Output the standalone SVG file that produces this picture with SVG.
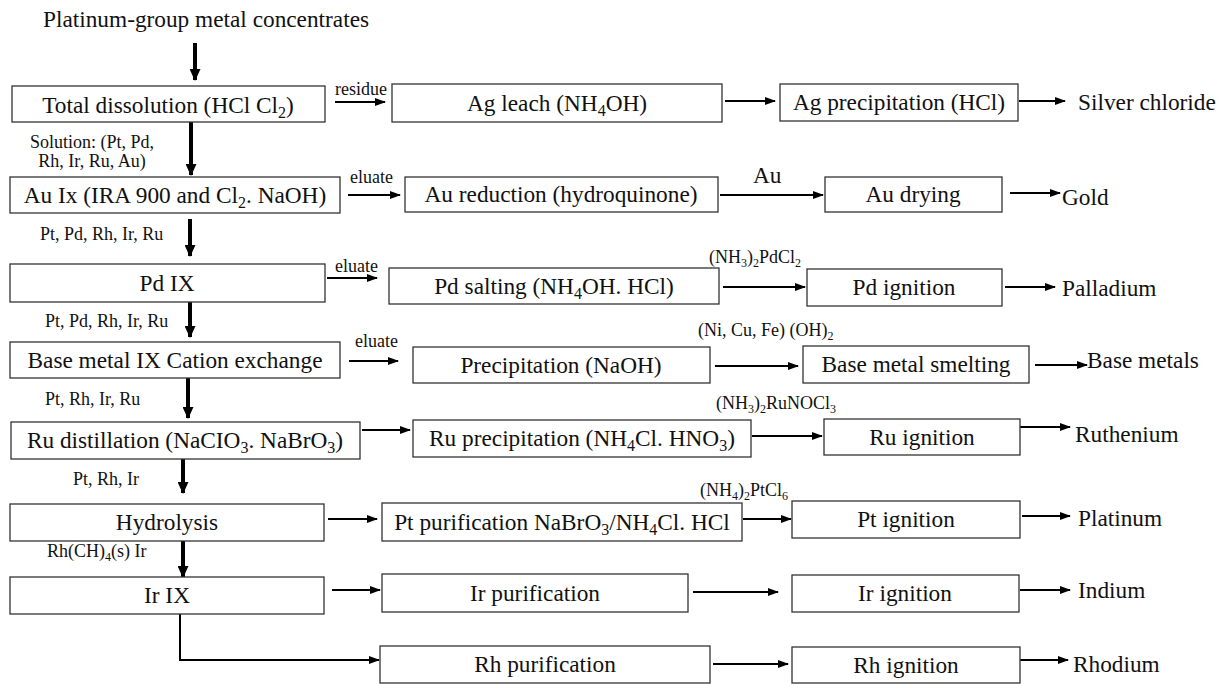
<svg xmlns="http://www.w3.org/2000/svg" width="1227" height="684" viewBox="0 0 1227 684">
<style>
text{font-family:"Liberation Serif","Times New Roman",serif;fill:#111}
.b{fill:#fff;stroke:#333;stroke-width:1.3}
.t{font-size:23.3px;text-anchor:middle}
.o{font-size:23.3px}
.s{font-size:18px}
.c{fill:none;stroke:#000;stroke-width:2}
.v{fill:none;stroke:#000;stroke-width:4}
</style>
<defs>
<marker id="ah" markerUnits="userSpaceOnUse" markerWidth="11" markerHeight="8" refX="10" refY="4" orient="auto"><path d="M0,0 L11,4 L0,8 z" fill="#000"/></marker>
<marker id="av" markerUnits="userSpaceOnUse" markerWidth="12" markerHeight="11" refX="11" refY="5.5" orient="auto"><path d="M0,0 L12,5.5 L0,11 z" fill="#000"/></marker>
</defs>
<rect width="1227" height="684" fill="#fff"/>
<text class="o" x="43" y="27">Platinum-group metal concentrates</text>
<g id="connectors">
<path class="v" d="M195,43 V80" marker-end="url(#av)"/>
<path class="v" d="M191,122 V175" marker-end="url(#av)"/>
<path class="v" d="M190,219 V256" marker-end="url(#av)"/>
<path class="v" d="M190,302 V337" marker-end="url(#av)"/>
<path class="v" d="M188,378 V418" marker-end="url(#av)"/>
<path class="v" d="M183,459 V493" marker-end="url(#av)"/>
<path class="v" d="M183,541 V577" marker-end="url(#av)"/>
<path class="c" d="M180,614 V660 H379" stroke-width="2.5" marker-end="url(#ah)"/>
<path class="c" d="M335,102 H385" marker-end="url(#ah)"/>
<path class="c" d="M725,101 H775" marker-end="url(#ah)"/>
<path class="c" d="M1019,101 H1065" marker-end="url(#ah)"/>
<path class="c" d="M348,195 H400" marker-end="url(#ah)"/>
<path class="c" d="M720,195 H823" marker-end="url(#ah)"/>
<path class="c" d="M1010,193 H1060" marker-end="url(#ah)"/>
<path class="c" d="M327,278 H377" marker-end="url(#ah)"/>
<path class="c" d="M723,287 H805" marker-end="url(#ah)"/>
<path class="c" d="M1005,287 H1055" marker-end="url(#ah)"/>
<path class="c" d="M349,361 H398" marker-end="url(#ah)"/>
<path class="c" d="M715,366 H798" marker-end="url(#ah)"/>
<path class="c" d="M1035,365 H1087" marker-end="url(#ah)"/>
<path class="c" d="M362,430 H410" marker-end="url(#ah)"/>
<path class="c" d="M752,436 H822" marker-end="url(#ah)"/>
<path class="c" d="M1020,427 H1070" marker-end="url(#ah)"/>
<path class="c" d="M328,519 H377" marker-end="url(#ah)"/>
<path class="c" d="M743,519 H791" marker-end="url(#ah)"/>
<path class="c" d="M1022,516 H1070" marker-end="url(#ah)"/>
<path class="c" d="M332,590 H380" marker-end="url(#ah)"/>
<path class="c" d="M693,592 H778" marker-end="url(#ah)"/>
<path class="c" d="M1020,590 H1070" marker-end="url(#ah)"/>
<path class="c" d="M713,664 H788" marker-end="url(#ah)"/>
<path class="c" d="M1020,660 H1068" marker-end="url(#ah)"/>
</g>
<g id="labels">
<text class="s" x="335" y="95">residue</text>
<text class="s" x="92" y="148" text-anchor="middle">Solution: (Pt, Pd,</text>
<text class="s" x="92" y="167" text-anchor="middle">Rh, Ir, Ru, Au)</text>
<text class="s" x="350" y="183">eluate</text>
<text class="o" x="753" y="183">Au</text>
<text class="s" x="40" y="240">Pt, Pd, Rh, Ir, Ru</text>
<text class="s" x="335" y="272">eluate</text>
<text class="s" x="709" y="263">(NH<tspan font-size="12" dy="4">3</tspan><tspan dy="-4">)</tspan><tspan font-size="12" dy="4">2</tspan><tspan dy="-4">PdCl</tspan><tspan font-size="12" dy="4">2</tspan></text>
<text class="s" x="45" y="327">Pt, Pd, Rh, Ir, Ru</text>
<text class="s" x="355" y="347">eluate</text>
<text class="s" x="698" y="336">(Ni, Cu, Fe) (OH)<tspan font-size="12" dy="4">2</tspan></text>
<text class="s" x="45" y="405">Pt, Rh, Ir, Ru</text>
<text class="s" x="716" y="409">(NH<tspan font-size="12" dy="4">3</tspan><tspan dy="-4">)</tspan><tspan font-size="12" dy="4">2</tspan><tspan dy="-4">RuNOCl</tspan><tspan font-size="12" dy="4">3</tspan></text>
<text class="s" x="73" y="485">Pt, Rh, Ir</text>
<text class="s" x="700" y="496">(NH<tspan font-size="12" dy="4">4</tspan><tspan dy="-4">)</tspan><tspan font-size="12" dy="4">2</tspan><tspan dy="-4">PtCl</tspan><tspan font-size="12" dy="4">6</tspan></text>
<text class="s" x="47" y="557">Rh(CH)<tspan font-size="12" dy="4">4</tspan><tspan dy="-4">(s) Ir</tspan></text>
<text class="o" x="1078" y="110">Silver chloride</text>
<text class="o" x="1062" y="205">Gold</text>
<text class="o" x="1062" y="296">Palladium</text>
<text class="o" x="1087" y="368">Base metals</text>
<text class="o" x="1075" y="442">Ruthenium</text>
<text class="o" x="1078" y="526">Platinum</text>
<text class="o" x="1078" y="598">Indium</text>
<text class="o" x="1073" y="672">Rhodium</text>
</g>
<g id="total"><rect class="b" x="12" y="86" width="313" height="36"/><text class="t" x="168" y="113">Total dissolution (HCl Cl<tspan font-size="16" dy="5">2</tspan><tspan dy="-5">)</tspan></text></g>
<g id="agleach"><rect class="b" x="392" y="84" width="330" height="38"/><text class="t" x="557" y="111">Ag leach (NH<tspan font-size="16" dy="5">4</tspan><tspan dy="-5">OH)</tspan></text></g>
<g id="agprecip"><rect class="b" x="780" y="84" width="238" height="37"/><text class="t" x="899" y="110">Ag precipitation (HCl)</text></g>
<g id="auix"><rect class="b" x="10" y="177" width="330" height="36"/><text class="t" x="175" y="203">Au Ix (IRA 900 and Cl<tspan font-size="16" dy="5">2</tspan><tspan dy="-5">. NaOH)</tspan></text></g>
<g id="aured"><rect class="b" x="405" y="177" width="313" height="35"/><text class="t" x="561" y="202">Au reduction (hydroquinone)</text></g>
<g id="audry"><rect class="b" x="825" y="177" width="177" height="35"/><text class="t" x="913" y="202">Au drying</text></g>
<g id="pdix"><rect class="b" x="10" y="264" width="315" height="38"/><text class="t" x="167" y="291">Pd IX</text></g>
<g id="pdsalt"><rect class="b" x="389" y="268" width="330" height="36"/><text class="t" x="554" y="294">Pd salting (NH<tspan font-size="16" dy="5">4</tspan><tspan dy="-5">OH. HCl)</tspan></text></g>
<g id="pdign"><rect class="b" x="807" y="269" width="195" height="37"/><text class="t" x="904" y="295">Pd ignition</text></g>
<g id="baseix"><rect class="b" x="10" y="342" width="330" height="36"/><text class="t" x="175" y="368">Base metal IX Cation exchange</text></g>
<g id="precip"><rect class="b" x="413" y="347" width="297" height="36"/><text class="t" x="561" y="373">Precipitation (NaOH)</text></g>
<g id="smelt"><rect class="b" x="803" y="346" width="226" height="37"/><text class="t" x="916" y="372">Base metal smelting</text></g>
<g id="rudist"><rect class="b" x="11" y="422" width="349" height="37"/><text class="t" x="185" y="448">Ru distillation (NaCIO<tspan font-size="16" dy="5">3</tspan><tspan dy="-5">. NaBrO</tspan><tspan font-size="16" dy="5">3</tspan><tspan dy="-5">)</tspan></text></g>
<g id="ruprecip"><rect class="b" x="413" y="420" width="338" height="37"/><text class="t" x="582" y="446">Ru precipitation (NH<tspan font-size="16" dy="5">4</tspan><tspan dy="-5">Cl. HNO</tspan><tspan font-size="16" dy="5">3</tspan><tspan dy="-5">)</tspan></text></g>
<g id="ruign"><rect class="b" x="824" y="419" width="196" height="36"/><text class="t" x="922" y="445">Ru ignition</text></g>
<g id="hydro"><rect class="b" x="10" y="504" width="314" height="37"/><text class="t" x="167" y="530">Hydrolysis</text></g>
<g id="ptpur"><rect class="b" x="382" y="503" width="360" height="38"/><text class="t" x="562" y="530">Pt purification NaBrO<tspan font-size="16" dy="5">3</tspan><tspan dy="-5">/NH</tspan><tspan font-size="16" dy="5">4</tspan><tspan dy="-5">Cl. HCl</tspan></text></g>
<g id="ptign"><rect class="b" x="792" y="501" width="228" height="37"/><text class="t" x="906" y="527">Pt ignition</text></g>
<g id="irix"><rect class="b" x="10" y="577" width="314" height="37"/><text class="t" x="167" y="603">Ir IX</text></g>
<g id="irpur"><rect class="b" x="382" y="574" width="306" height="38"/><text class="t" x="535" y="601">Ir purification</text></g>
<g id="irign"><rect class="b" x="792" y="575" width="227" height="37"/><text class="t" x="905" y="601">Ir ignition</text></g>
<g id="rhpur"><rect class="b" x="380" y="646" width="330" height="37"/><text class="t" x="545" y="672">Rh purification</text></g>
<g id="rhign"><rect class="b" x="792" y="647" width="228" height="36"/><text class="t" x="906" y="673">Rh ignition</text></g>
</svg>
